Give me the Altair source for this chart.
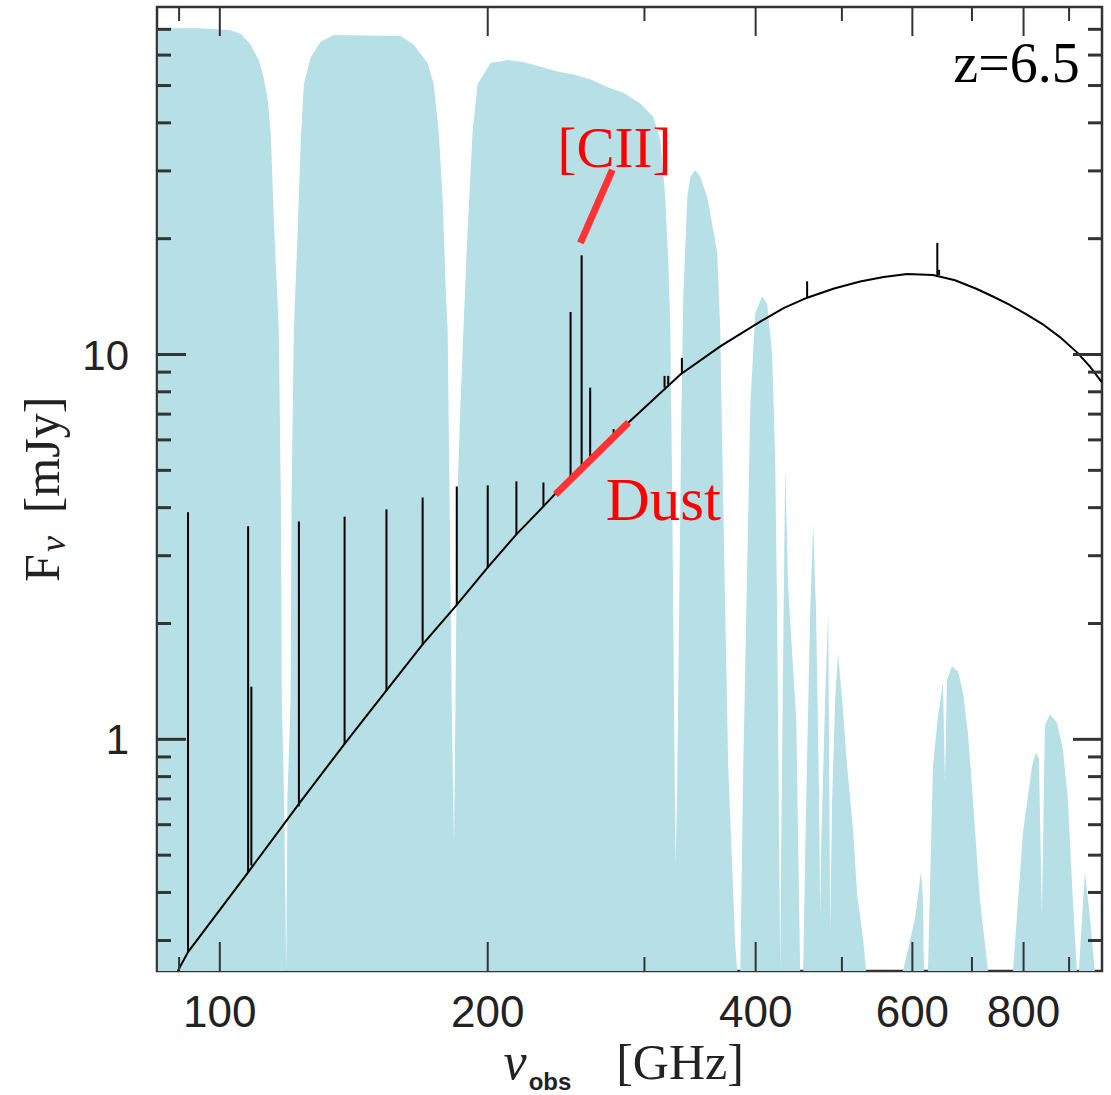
import altair as alt
import pandas as pd

# ---------------- data ----------------
# atmospheric transmission envelope (observed frequency GHz, transmission 0-1)
trans_freq = [85.2, 95.2, 102.9, 105.6, 108.3, 110.6, 112.0, 113.2, 114.1, 115.0, 115.9, 116.5,
              117.1, 117.4, 118.1, 118.75, 119.1, 120.1, 120.4, 121.1, 122.3, 123.3, 124.3, 126.5,
              129.8, 134.3, 159.6, 165.1, 171.2, 173.9, 176.2, 178.0, 179.3, 180.3, 181.2, 182.2,
              183.3, 184.0, 184.9, 186.4, 187.8, 189.8, 192.3, 194.8, 201.5, 210.5, 219.4, 229.3,
              239.5, 249.7, 260.7, 272.6, 284.1, 296.8, 307.0, 312.6, 316.6, 319.1, 320.8, 322.4,
              324.2, 325.2, 326.6, 328.3, 330.0, 331.7, 335.2, 337.8, 342.1, 346.6, 352.9, 358.4,
              362.2, 365.0, 366.9, 368.8, 370.7, 372.6, 376.5, 379.4, 381.4, 384.4, 387.4, 391.5,
              394.5, 399.6, 406.9, 412.1, 417.5, 420.7, 422.9, 425.1, 426.2, 427.3, 429.5, 431.8,
              435.1, 439.6, 444.4, 446.6, 448.8, 452.3, 455.9, 460.6, 464.2, 467.7, 471.4, 472.6,
              473.8, 478.8, 482.6, 485.1, 487.5, 491.4, 495.1, 500.3, 506.8, 514.9, 520.0, 528.3,
              532.3, 585.6, 604.0, 613.6, 616.8, 618.2, 624.7, 632.8, 641.1, 649.4, 652.8, 656.2,
              664.7, 675.1, 683.9, 692.8, 701.8, 714.6, 729.7, 778.4, 798.8, 817.6, 826.1, 832.5,
              839.0, 845.3, 856.4, 872.1, 885.7, 897.2, 908.8, 918.3, 923.1, 937.5, 949.6, 962.0,
              979.7]
trans_val = [0.978, 0.978, 0.976, 0.972, 0.961, 0.945, 0.927, 0.904, 0.868, 0.78, 0.71, 0.665,
             0.49, 0.282, 0.178, 0.0, 0.178, 0.282, 0.49, 0.665, 0.766, 0.862, 0.92, 0.948,
             0.964, 0.971, 0.970, 0.961, 0.942, 0.92, 0.87, 0.80, 0.714, 0.665, 0.49, 0.282,
             0.13, 0.282, 0.49, 0.59, 0.665, 0.766, 0.87, 0.92, 0.942, 0.945, 0.943, 0.938,
             0.933, 0.93, 0.925, 0.917, 0.911, 0.90, 0.886, 0.862, 0.803, 0.735, 0.665, 0.49,
             0.232, 0.11, 0.2, 0.39, 0.572, 0.70, 0.803, 0.824, 0.831, 0.824, 0.803, 0.769,
             0.745, 0.665, 0.541, 0.427, 0.32, 0.213, 0.108, 0.028, 0.0, 0.0, 0.213, 0.427,
             0.587, 0.682, 0.70, 0.692, 0.639, 0.533, 0.373, 0.126, 0.0, 0.126, 0.33, 0.522,
             0.40, 0.33, 0.26, 0.13, 0.0, 0.0, 0.178, 0.373, 0.464, 0.373, 0.178, 0.057,
             0.126, 0.282, 0.373, 0.04, 0.178, 0.282, 0.33, 0.282, 0.213, 0.144, 0.081, 0.033,
             0.0, 0.0, 0.054, 0.103, 0.074, 0.0, 0.0, 0.212, 0.264, 0.299, 0.196, 0.302,
             0.316, 0.311, 0.289, 0.247, 0.178, 0.074, 0.0, 0.0, 0.144, 0.212, 0.227, 0.22,
             0.057, 0.255, 0.266, 0.258, 0.23, 0.178, 0.074, 0.0, 0.0, 0.103, 0.057, 0.0,
             0.0]

# dust continuum (GHz, mJy)
cont_freq = [89.7, 92.1, 107.8, 123.3, 138.5, 153.6, 169.0, 184.0, 200.0, 215.4, 231.0, 247.8,
             287.9, 329.2, 365.0, 404.8, 430.0, 457.0, 490.0, 524.2, 557.0, 592.0, 633.0, 670.0,
             709.0, 739.0, 770.0, 807.0, 840.0, 879.0, 920.0, 950.0, 980.0]
cont_flux = [0.25, 0.28, 0.454, 0.69, 0.982, 1.333, 1.765, 2.216, 2.797, 3.408, 4.03, 4.79,
             6.66, 8.87, 10.5, 12.18, 13.2, 14.05, 14.85, 15.47, 15.9, 16.2, 16.1, 15.6,
             14.8, 14.15, 13.5, 12.7, 12.0, 11.1, 10.1, 9.3, 8.46]

# emission lines (GHz, continuum level, peak, mJy)
line_freq = [92.1, 107.6, 108.5, 122.7, 138.1, 153.9, 169.0, 184.6, 200.0, 215.4, 231.0, 247.8,
             255.0, 260.7, 277.0, 316.0, 319.0, 330.5, 457.0, 640.0, 643.0]
line_base = [0.28, 0.45, 0.47, 0.67, 0.97, 1.34, 1.76, 2.23, 2.80, 3.41, 4.03, 4.79,
             5.10, 5.36, 6.12, 8.2, 8.35, 8.9, 14.05, 16.1, 16.1]
line_peak = [3.89, 3.58, 1.37, 3.68, 3.79, 3.96, 4.25, 4.54, 4.57, 4.68, 4.65, 12.9,
             18.1, 8.2, 6.4, 8.8, 8.8, 9.8, 15.5, 19.5, 16.6]

# red annotation strokes (x1, y1, x2, y2)
mark_x1 = [276.1, 238.3]
mark_y1 = [30.2, 4.33]
mark_x2 = [254.2, 287.9]
mark_y2 = [19.5, 6.66]

# labels
label_text = ["[CII]", "Dust"]
label_freq = [277.6, 315.0]
label_flux = [30.8, 3.71]
label_size = [57, 61]
redshift_text = "z=6.5"

x_major = [100, 200, 400, 600, 800]
x_major_labels = ["100", "200", "400", "600", "800"]
x_minor = [90, 300, 500, 700, 900]
y_major = [1, 10]
y_major_labels = ["1", "10"]
y_minor = [0.3, 0.4, 0.5, 0.6, 0.7, 0.8, 0.9, 2, 3, 4, 5, 6, 7, 8, 9, 20, 30, 40, 50, 60, 70]

# ---------------- chart ----------------
W, H = 945, 964
CYAN = "#b6e0e6"
RED_LINE = "#ff3333"
AX = "#333333"
LBL = "#222222"

xs = alt.Scale(type="log", domain=[85, 980], nice=False)
ys = alt.Scale(type="log", domain=[0.25, 80], nice=False)

trans_df = pd.DataFrame({"f": trans_freq, "t": trans_val})
cont_df = pd.DataFrame({"f": cont_freq, "F": cont_flux})
lines_df = pd.DataFrame({"f": line_freq, "b": line_base, "p": line_peak})
marks_df = pd.DataFrame({"x1": mark_x1, "y1": mark_y1, "x2": mark_x2, "y2": mark_y2})
labels_df = pd.DataFrame({"f": label_freq, "F": label_flux, "txt": label_text, "s": label_size})
z_df = pd.DataFrame({"f": [925.3], "F": [51.2], "txt": [redshift_text]})
xlab_df = pd.DataFrame({"v": x_major, "txt": x_major_labels})
ylab_df = pd.DataFrame({"v": y_major, "txt": y_major_labels})

area = alt.Chart(trans_df).mark_area(color=CYAN, opacity=1, clip=True, interpolate="linear").encode(
    x=alt.X("f:Q", scale=xs, axis=None),
    y=alt.Y("t:Q", scale=alt.Scale(domain=[0, 1], nice=False, zero=True), axis=None),
)

spec = alt.Chart(cont_df).mark_line(color="black", strokeWidth=2, clip=True,
                                    interpolate="linear").encode(
    x=alt.X("f:Q", scale=xs, axis=None),
    y=alt.Y("F:Q", scale=ys, axis=None),
)

elines = alt.Chart(lines_df).mark_rule(color="black", strokeWidth=2, clip=True).encode(
    x=alt.X("f:Q", scale=xs, axis=None),
    y=alt.Y("b:Q", scale=ys, axis=None),
    y2="p:Q",
)

red = alt.Chart(marks_df).mark_rule(color=RED_LINE, strokeWidth=7, strokeCap="butt").encode(
    x=alt.X("x1:Q", scale=xs, axis=None), x2="x2:Q",
    y=alt.Y("y1:Q", scale=ys, axis=None), y2="y2:Q",
)

labels = alt.Chart(labels_df).mark_text(
    color="#ff0000", font="Liberation Serif", align="center", baseline="alphabetic"
).encode(
    x=alt.X("f:Q", scale=xs, axis=None),
    y=alt.Y("F:Q", scale=ys, axis=None),
    text="txt:N",
    size=alt.Size("s:Q", scale=None, legend=None),
)

zlab = alt.Chart(z_df).mark_text(
    color="black", font="Liberation Serif", fontSize=56, align="right", baseline="alphabetic"
).encode(
    x=alt.X("f:Q", scale=xs, axis=None),
    y=alt.Y("F:Q", scale=ys, axis=None),
    text="txt:N",
)

# tick labels (drawn as text so that the inward ticks can be drawn separately)
xlabels = alt.Chart(xlab_df).mark_text(
    font="Liberation Sans", fontSize=44, color=LBL, align="center", baseline="alphabetic"
).encode(
    x=alt.X("v:Q", scale=xs, axis=None), y=alt.value(H + 56), text="txt:N",
)
ylabels = alt.Chart(ylab_df).mark_text(
    font="Liberation Sans", fontSize=42, color=LBL, align="right", baseline="alphabetic", dy=15
).encode(
    y=alt.Y("v:Q", scale=ys, axis=None), x=alt.value(-28), text="txt:N",
)


def xticks(vals, length, top):
    d = pd.DataFrame({"v": vals})
    if top:
        yv, y2v = 0, length
    else:
        yv, y2v = H, H - length
    return alt.Chart(d).mark_rule(color=AX, strokeWidth=2).encode(
        x=alt.X("v:Q", scale=xs, axis=None), y=alt.value(yv), y2=alt.value(y2v))


def yticks(vals, length, right):
    d = pd.DataFrame({"v": vals})
    if right:
        xv, x2v = W, W - length
    else:
        xv, x2v = 0, length
    return alt.Chart(d).mark_rule(color=AX, strokeWidth=3).encode(
        y=alt.Y("v:Q", scale=ys, axis=None), x=alt.value(xv), x2=alt.value(x2v))


ticks = [
    xticks(x_major, 29, False), xticks(x_minor, 14, False),
    xticks(x_major, 29, True), xticks(x_minor, 14, True),
    yticks(y_major, 29, False), yticks(y_minor, 14, False),
    yticks(y_major, 29, True), yticks(y_minor, 14, True),
]

one = pd.DataFrame({"k": [0]})


def txt(s, x, y, size, font="Liberation Serif", angle=0, style="normal", weight="normal",
        align="center", color=LBL):
    return alt.Chart(one).mark_text(
        text=s, font=font, fontSize=size, angle=angle, fontStyle=style, fontWeight=weight,
        align=align, baseline="alphabetic", color=color
    ).encode(x=alt.value(x), y=alt.value(y))


titles = [
    # x title
    txt("\u03bd", 358, 1072, 52, style="italic"),
    txt("obs", 393, 1083, 24, font="Liberation Sans", weight="bold"),
    txt("[GHz]", 523, 1072, 50),
    # y title (rotated)
    txt("F", -98, 561, 50, angle=270),
    txt("\u03bd", -92, 537, 36, angle=270, style="italic"),
    txt("[mJy]", -98, 448, 50, angle=270),
]

inner = alt.layer(spec, elines, red, labels, zlab, xlabels, ylabels, *ticks, *titles)

chart = alt.layer(area, inner).resolve_scale(y="independent").properties(
    width=W, height=H,
    background="white",
    autosize=alt.AutoSizeParams(type="none"),
    padding={"left": 157, "top": 7, "right": 9, "bottom": 124},
).configure_view(stroke=AX, strokeWidth=2.5)

chart.save("out.html", embed_options={"renderer": "svg", "actions": False})
